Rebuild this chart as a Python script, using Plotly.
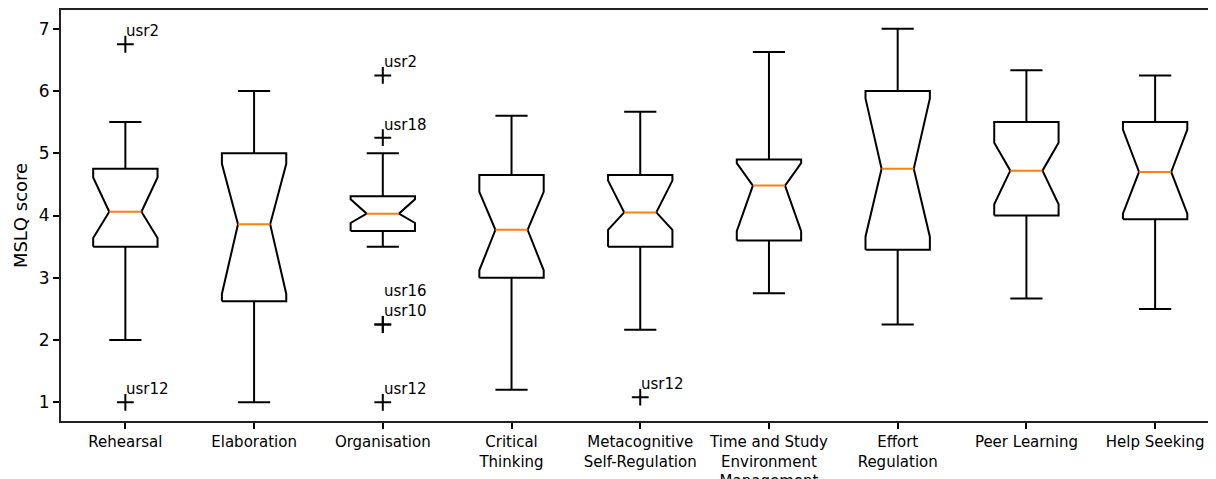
import plotly.graph_objects as go

# ---- data ----
categories = ["Rehearsal", "Elaboration", "Organisation", "Critical<br>Thinking",
              "Metacognitive<br>Self-Regulation", "Time and Study<br>Environment<br>Management",
              "Effort<br>Regulation", "Peer Learning", "Help Seeking"]
whisker_low = [2.0, 1.0, 3.5, 1.2, 2.167, 2.75, 2.25, 2.667, 2.5]
q1 = [3.5, 2.625, 3.75, 3.0, 3.5, 3.6, 3.45, 4.0, 3.94]
notch_low = [3.64, 2.74, 3.88, 3.12, 3.77, 3.75, 3.66, 4.18, 4.03]
median = [4.06, 3.86, 4.03, 3.77, 4.05, 4.48, 4.75, 4.72, 4.70]
notch_high = [4.61, 4.83, 4.26, 4.38, 4.56, 4.84, 5.88, 5.17, 5.38]
q3 = [4.75, 5.0, 4.31, 4.65, 4.65, 4.9, 6.0, 5.5, 5.5]
whisker_high = [5.5, 6.0, 5.0, 5.6, 5.667, 6.625, 7.0, 6.333, 6.25]

outlier_category = [0, 0, 2, 2, 2, 2, 2, 4]
outlier_value = [6.75, 1.0, 6.25, 5.25, 2.25, 2.25, 1.0, 1.083]
outlier_label = ["usr2", "usr12", "usr2", "usr18", "usr16", "usr10", "usr12", "usr12"]

y_ticks = [1, 2, 3, 4, 5, 6, 7]

# ---- geometry (matplotlib-like defaults) ----
positions = list(range(1, len(categories) + 1))
half_w = 0.25   # box width 0.5
waist = half_w / 2

box_x, box_y = [], []
wh_x, wh_y = [], []
med_x, med_y = [], []
for i, p in enumerate(positions):
    xs = [p - half_w, p - half_w, p - waist, p - half_w, p - half_w,
          p + half_w, p + half_w, p + waist, p + half_w, p + half_w, p - half_w]
    ys = [q1[i], notch_low[i], median[i], notch_high[i], q3[i],
          q3[i], notch_high[i], median[i], notch_low[i], q1[i], q1[i]]
    box_x += xs + [None]
    box_y += ys + [None]
    wh_x += [p, p, None, p, p, None]
    wh_y += [q1[i], whisker_low[i], None, q3[i], whisker_high[i], None]
    wh_x += [p - waist, p + waist, None, p - waist, p + waist, None]
    wh_y += [whisker_low[i], whisker_low[i], None, whisker_high[i], whisker_high[i], None]
    med_x += [p - waist, p + waist, None]
    med_y += [median[i], median[i], None]

LW = 2
fig = go.Figure()
fig.add_trace(go.Scatter(x=wh_x, y=wh_y, mode="lines",
                         line=dict(color="black", width=LW), hoverinfo="skip"))
fig.add_trace(go.Scatter(x=box_x, y=box_y, mode="lines",
                         line=dict(color="black", width=LW), hoverinfo="skip"))
fig.add_trace(go.Scatter(x=med_x, y=med_y, mode="lines",
                         line=dict(color="#ff7f0e", width=LW), hoverinfo="skip"))
fig.add_trace(go.Scatter(x=[positions[c] for c in outlier_category], y=outlier_value,
                         mode="markers",
                         marker=dict(symbol="cross-thin", size=12,
                                     line=dict(color="black", width=2), color="black"),
                         hoverinfo="skip"))

groups = {}
for c, v, lab in zip(outlier_category, outlier_value, outlier_label):
    groups.setdefault((c, v), []).append(lab)
for (c, v), labs in groups.items():
    fig.add_annotation(x=positions[c], y=v, text="<br>".join(labs), showarrow=False,
                       xanchor="left", yanchor="bottom", xshift=-1, yshift=2,
                       font=dict(size=15, color="black", family="DejaVu Sans"))

# page body has an 8px margin, so the figure is sized/offset to fill the 1216x479 window
fig.update_layout(
    width=1208, height=471,
    margin=dict(l=53, r=0, t=2, b=58, autoexpand=False),
    plot_bgcolor="white", paper_bgcolor="white",
    showlegend=False,
    font=dict(family="DejaVu Sans", color="black"),
)
fig.update_xaxes(
    range=[0.5, 9.473], tickmode="array", tickvals=positions, ticktext=categories,
    ticks="outside", ticklen=6, tickwidth=1.5, tickcolor="black",
    showline=True, linecolor="#222", linewidth=2, mirror=True, automargin=False,
    showgrid=False, zeroline=False, tickfont=dict(size=15, color="black"),
)
fig.update_yaxes(
    range=[0.7, 7.3], tickmode="array", tickvals=y_ticks,
    ticks="outside", ticklen=6, tickwidth=1.5, tickcolor="black",
    showline=True, linecolor="#222", linewidth=2, automargin=False,
    showgrid=False, zeroline=False, tickfont=dict(size=17, color="black"),
    title=dict(text="MSLQ score", font=dict(size=18, color="black"), standoff=6),
)

fig.write_html("out.html")
